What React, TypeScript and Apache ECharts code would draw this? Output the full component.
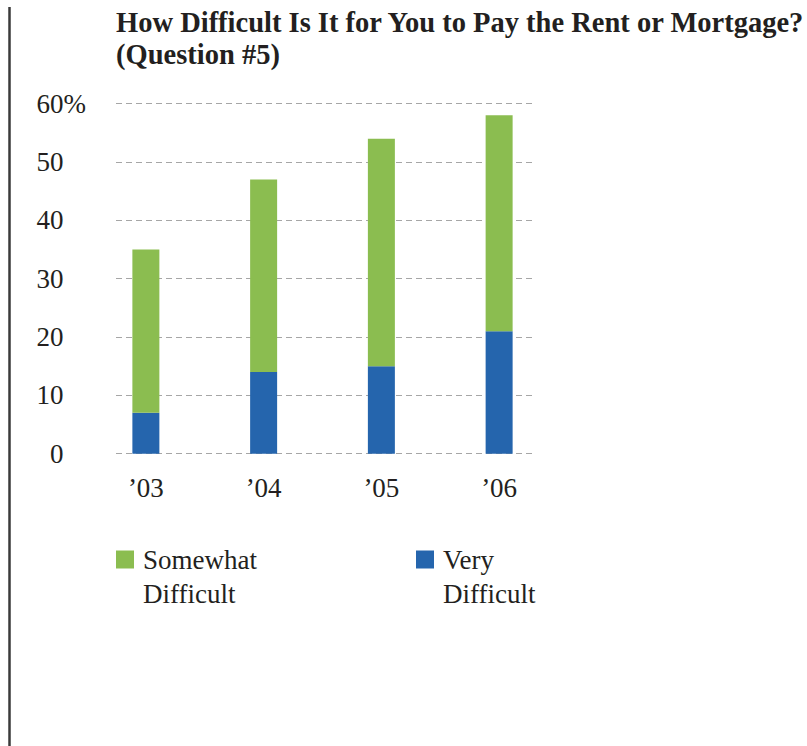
import React, { useEffect, useRef } from "react";
import * as echarts from "echarts";

const titleLines = [
  "How Difficult Is It for You to Pay the Rent or Mortgage?",
  "(Question #5)",
];
const years = ["’03", "’04", "’05", "’06"];
const veryDifficult = [7, 14, 15, 21];
const somewhatDifficult = [28, 33, 39, 37];
const seriesNames = ["Somewhat Difficult", "Very Difficult"];
const legendLabels: Record<string, string> = {
  "Somewhat Difficult": "Somewhat\nDifficult",
  "Very Difficult": "Very\nDifficult",
};
const yMin = 0;
const yMax = 60;
const yStep = 10;

const GREEN = "#8BBD50";
const BLUE = "#2565AD";
const TEXT = "#231f20";
const FONT = "'Liberation Serif', 'Times New Roman', serif";

export default function App() {
  const ref = useRef<HTMLDivElement>(null);

  useEffect(() => {
    document.body.style.margin = "0";
    if (!ref.current) return;
    const chart = echarts.init(ref.current, undefined, { renderer: "svg" });
    const gridTop = 103.7;
    const gridHeight = 350;
    const legendCommon = {
      top: 508.5,
      padding: 0,
      itemWidth: 18,
      itemHeight: 18,
      icon: "rect",
      selectedMode: false,
      // leading blank line keeps the icon level with the first text line
      formatter: (name: string) => "\n" + legendLabels[name],
      textStyle: {
        fontFamily: FONT,
        fontSize: 27,
        lineHeight: 34,
        color: TEXT,
        padding: [0, 0, 0, 4],
      },
    };
    chart.setOption({
      animation: false,
      backgroundColor: "#ffffff",
      title: {
        text: titleLines.join("\n"),
        left: 116,
        top: 6,
        padding: 0,
        textStyle: {
          fontFamily: FONT,
          fontWeight: "bold",
          fontSize: 28.5,
          lineHeight: 32,
          color: TEXT,
        },
      },
      graphic: [
        {
          type: "line",
          shape: { x1: 9.5, y1: 7, x2: 9.5, y2: 746 },
          style: { stroke: "#3a3a3a", lineWidth: 2.5 },
        },
      ],
      legend: [
        { ...legendCommon, data: [seriesNames[0]], left: 116 },
        { ...legendCommon, data: [seriesNames[1]], left: 416 },
      ],
      grid: [
        { left: 116, width: 419, top: gridTop, height: gridHeight, containLabel: false },
        { left: 87, width: 471, top: gridTop, height: gridHeight, containLabel: false },
      ],
      xAxis: [
        { type: "category", gridIndex: 0, data: years, show: false },
        {
          type: "category",
          gridIndex: 1,
          data: years,
          axisLine: { show: false },
          axisTick: { show: false },
          axisLabel: {
            fontFamily: FONT,
            fontSize: 27,
            color: TEXT,
            margin: 21,
          },
        },
      ],
      yAxis: [
        {
          type: "value",
          gridIndex: 0,
          min: yMin,
          max: yMax,
          interval: yStep,
          axisLine: { show: false },
          axisTick: { show: false },
          splitLine: {
            show: true,
            lineStyle: { color: "#a6a6a6", type: [6, 4], width: 1.2 },
          },
          axisLabel: {
            margin: 30,
            formatter: (v: number) =>
              v === yMax ? `{n|${v}}{p|%}` : `{n|${v}}{h|%}`,
            rich: {
              n: { fontFamily: FONT, fontSize: 27, color: TEXT },
              p: { fontFamily: FONT, fontSize: 27, color: TEXT },
              h: { fontFamily: FONT, fontSize: 27, color: "rgba(0,0,0,0)" },
            },
          },
        },
        { type: "value", gridIndex: 1, min: yMin, max: yMax, show: false },
      ],
      series: [
        {
          name: seriesNames[1],
          type: "bar",
          xAxisIndex: 1,
          yAxisIndex: 1,
          stack: "total",
          barWidth: 27,
          itemStyle: { color: BLUE },
          data: veryDifficult,
        },
        {
          name: seriesNames[0],
          type: "bar",
          xAxisIndex: 1,
          yAxisIndex: 1,
          stack: "total",
          barWidth: 27,
          itemStyle: { color: GREEN },
          data: somewhatDifficult,
        },
      ],
    });
    return () => chart.dispose();
  }, []);

  return (
    <div
      ref={ref}
      style={{ position: "fixed", left: 0, top: 0, width: 807, height: 746 }}
    />
  );
}
